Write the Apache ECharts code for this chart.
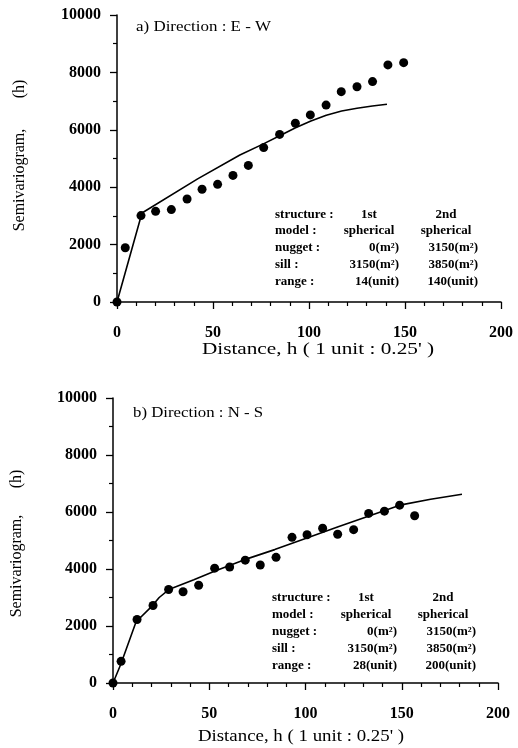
<!DOCTYPE html>
<html>
<head>
<meta charset="utf-8">
<script src="https://cdn.jsdelivr.net/npm/echarts@6/dist/echarts.min.js"></script>
<style>
  html, body { margin: 0; padding: 0; background: #fff; }
  #chart { width: 518px; height: 748px; }
</style>
</head>
<body>
<div id="chart"></div>
<script>
// Experimental semivariogram, E - W direction
const lagEW = [0, 4.3, 12.5, 20.1, 28.3, 36.5, 44.3, 52.4, 60.4, 68.4, 76.4, 84.7, 92.9, 100.7, 108.9, 116.8, 125, 133.1, 141.1, 149.3];
const gammaEW = [0, 1890, 3010, 3160, 3220, 3590, 3930, 4100, 4410, 4760, 5380, 5840, 6230, 6520, 6860, 7330, 7500, 7680, 8260, 8340];
// Fitted nested spherical model, E - W
const modelLagEW = [0, 13, 42, 64, 76, 85, 93, 101, 109, 117, 125, 133, 140.6];
const modelEW = [0, 3100, 4290, 5120, 5500, 5800, 6070, 6310, 6510, 6655, 6750, 6830, 6890];

// Experimental semivariogram, N - S direction
const lagNS = [0, 4.2, 12.5, 20.8, 28.9, 36.4, 44.5, 52.8, 60.6, 68.7, 76.5, 84.7, 93.0, 100.8, 108.9, 116.7, 125, 132.8, 141, 148.9, 156.7];
const gammaNS = [0, 760, 2230, 2720, 3280, 3200, 3430, 4030, 4070, 4310, 4140, 4410, 5110, 5200, 5430, 5220, 5380, 5950, 6030, 6240, 5870];
// Fitted nested spherical model, N - S
const modelLagNS = [0, 4, 12, 20, 24, 29, 42, 53, 68, 84, 100, 117, 133, 149, 165, 181.3];
const modelNS = [0, 650, 2150, 2680, 3000, 3280, 3620, 3930, 4320, 4680, 5070, 5480, 5860, 6240, 6450, 6620];

// Axis ticks
const xTicks = [0, 50, 100, 150, 200];
const yTicks = [0, 2000, 4000, 6000, 8000, 10000];

// Model parameter tables
const tableRows = ['structure :', 'model :', 'nugget :', 'sill :', 'range :'];
const tableEW1 = ['1st', 'spherical', '0(m²)', '3150(m²)', '14(unit)'];
const tableEW2 = ['2nd', 'spherical', '3150(m²)', '3850(m²)', '140(unit)'];
const tableNS1 = ['1st', 'spherical', '0(m²)', '3150(m²)', '28(unit)'];
const tableNS2 = ['2nd', 'spherical', '3150(m²)', '3850(m²)', '200(unit)'];

const FONT = "'Liberation Serif', 'Times New Roman', serif";
const INK = '#000';

const zip = (a, b) => a.map((v, i) => [v, b[i]]);

function xAxisCfg(gridIndex) {
  return {
    gridIndex, type: 'value', min: xTicks[0], max: xTicks[xTicks.length - 1], interval: 50,
    axisLine: { onZero: false, lineStyle: { color: INK, width: 1.5 } },
    axisTick: { length: 7, lineStyle: { color: INK, width: 1.3 } },
    minorTick: { show: true, splitNumber: 5, length: 4, lineStyle: { color: INK, width: 1.2 } },
    splitLine: { show: false },
    axisLabel: { margin: 23, fontFamily: FONT, fontSize: 16, fontWeight: 'bold', color: INK,
      formatter: v => String(v) }
  };
}
function yAxisCfg(gridIndex) {
  return {
    gridIndex, type: 'value', min: yTicks[0], max: yTicks[yTicks.length - 1], interval: 2000,
    axisLine: { show: true, onZero: false, lineStyle: { color: INK, width: 1.5 } },
    axisTick: { show: true, length: 7, lineStyle: { color: INK, width: 1.3 } },
    minorTick: { show: true, splitNumber: 2, length: 4, lineStyle: { color: INK, width: 1.2 } },
    splitLine: { show: false },
    axisLabel: { margin: 16, fontFamily: FONT, fontSize: 16, fontWeight: 'bold', color: INK,
      formatter: v => String(v) }
  };
}

function txt(x, y, text, opts) {
  const o = opts || {};
  return {
    type: 'text', x, y, rotation: o.rotation || 0, scaleX: o.scaleX || 1,
    style: {
      text, fill: INK, fontFamily: FONT,
      fontSize: o.size || 13,
      fontWeight: o.weight || 'bold',
      textAlign: o.align || 'left',
      textVerticalAlign: 'middle'
    }
  };
}

function table(rowsY, labelX, c1, c1Center, c1Right, c2, c2Center, c2Right) {
  const els = [];
  rowsY.forEach((y, i) => {
    els.push(txt(labelX, y, tableRows[i]));
    if (i < 2) {
      els.push(txt(c1Center, y, c1[i], { align: 'center' }));
      els.push(txt(c2Center, y, c2[i], { align: 'center' }));
    } else {
      els.push(txt(c1Right, y, c1[i], { align: 'right' }));
      els.push(txt(c2Right, y, c2[i], { align: 'right' }));
    }
  });
  return els;
}

const graphics = [
  // panel titles
  txt(136, 27, 'a) Direction : E - W', { size: 15, weight: 'normal', scaleX: 1.13 }),
  txt(133, 413, 'b) Direction : N - S', { size: 15, weight: 'normal', scaleX: 1.12 }),
  // y-axis titles
  txt(20, 180, 'Semivariogram,', { size: 16, weight: 'normal', align: 'center', rotation: Math.PI / 2 }),
  txt(20, 89, '(h)', { size: 16, weight: 'normal', align: 'center', rotation: Math.PI / 2 }),
  txt(17, 566, 'Semivariogram,', { size: 16, weight: 'normal', align: 'center', rotation: Math.PI / 2 }),
  txt(17, 479, '(h)', { size: 16, weight: 'normal', align: 'center', rotation: Math.PI / 2 }),
  // x-axis titles
  txt(318, 350, "Distance, h ( 1 unit : 0.25' )", { size: 17, weight: 'normal', align: 'center', scaleX: 1.25 }),
  txt(301, 737, "Distance, h ( 1 unit : 0.25' )", { size: 17, weight: 'normal', align: 'center', scaleX: 1.11 })
]
  .concat(table([215, 231, 248, 265, 282], 275, tableEW1, 369, 399, tableEW2, 446, 478))
  .concat(table([598, 615, 632, 649, 666], 272, tableNS1, 366, 397, tableNS2, 443, 476));

const chart = echarts.init(document.getElementById('chart'), null, { renderer: 'canvas' });
chart.setOption({
  animation: false,
  backgroundColor: '#fff',
  grid: [
    { left: 117, top: 15, width: 384, height: 287 },
    { left: 113, top: 398, width: 385, height: 285 }
  ],
  xAxis: [xAxisCfg(0), xAxisCfg(1)],
  yAxis: [yAxisCfg(0), yAxisCfg(1)],
  series: [
    {
      type: 'line', xAxisIndex: 0, yAxisIndex: 0, data: zip(modelLagEW, modelEW),
      showSymbol: false, smooth: false, lineStyle: { color: INK, width: 1.6 }, z: 2
    },
    {
      type: 'scatter', xAxisIndex: 0, yAxisIndex: 0, data: zip(lagEW, gammaEW),
      symbol: 'circle', symbolSize: 9, itemStyle: { color: INK, opacity: 1 }, z: 3
    },
    {
      type: 'line', xAxisIndex: 1, yAxisIndex: 1, data: zip(modelLagNS, modelNS),
      showSymbol: false, smooth: false, lineStyle: { color: INK, width: 1.6 }, z: 2
    },
    {
      type: 'scatter', xAxisIndex: 1, yAxisIndex: 1, data: zip(lagNS, gammaNS),
      symbol: 'circle', symbolSize: 9, itemStyle: { color: INK, opacity: 1 }, z: 3
    }
  ],
  graphic: graphics
});
</script>
</body>
</html>
